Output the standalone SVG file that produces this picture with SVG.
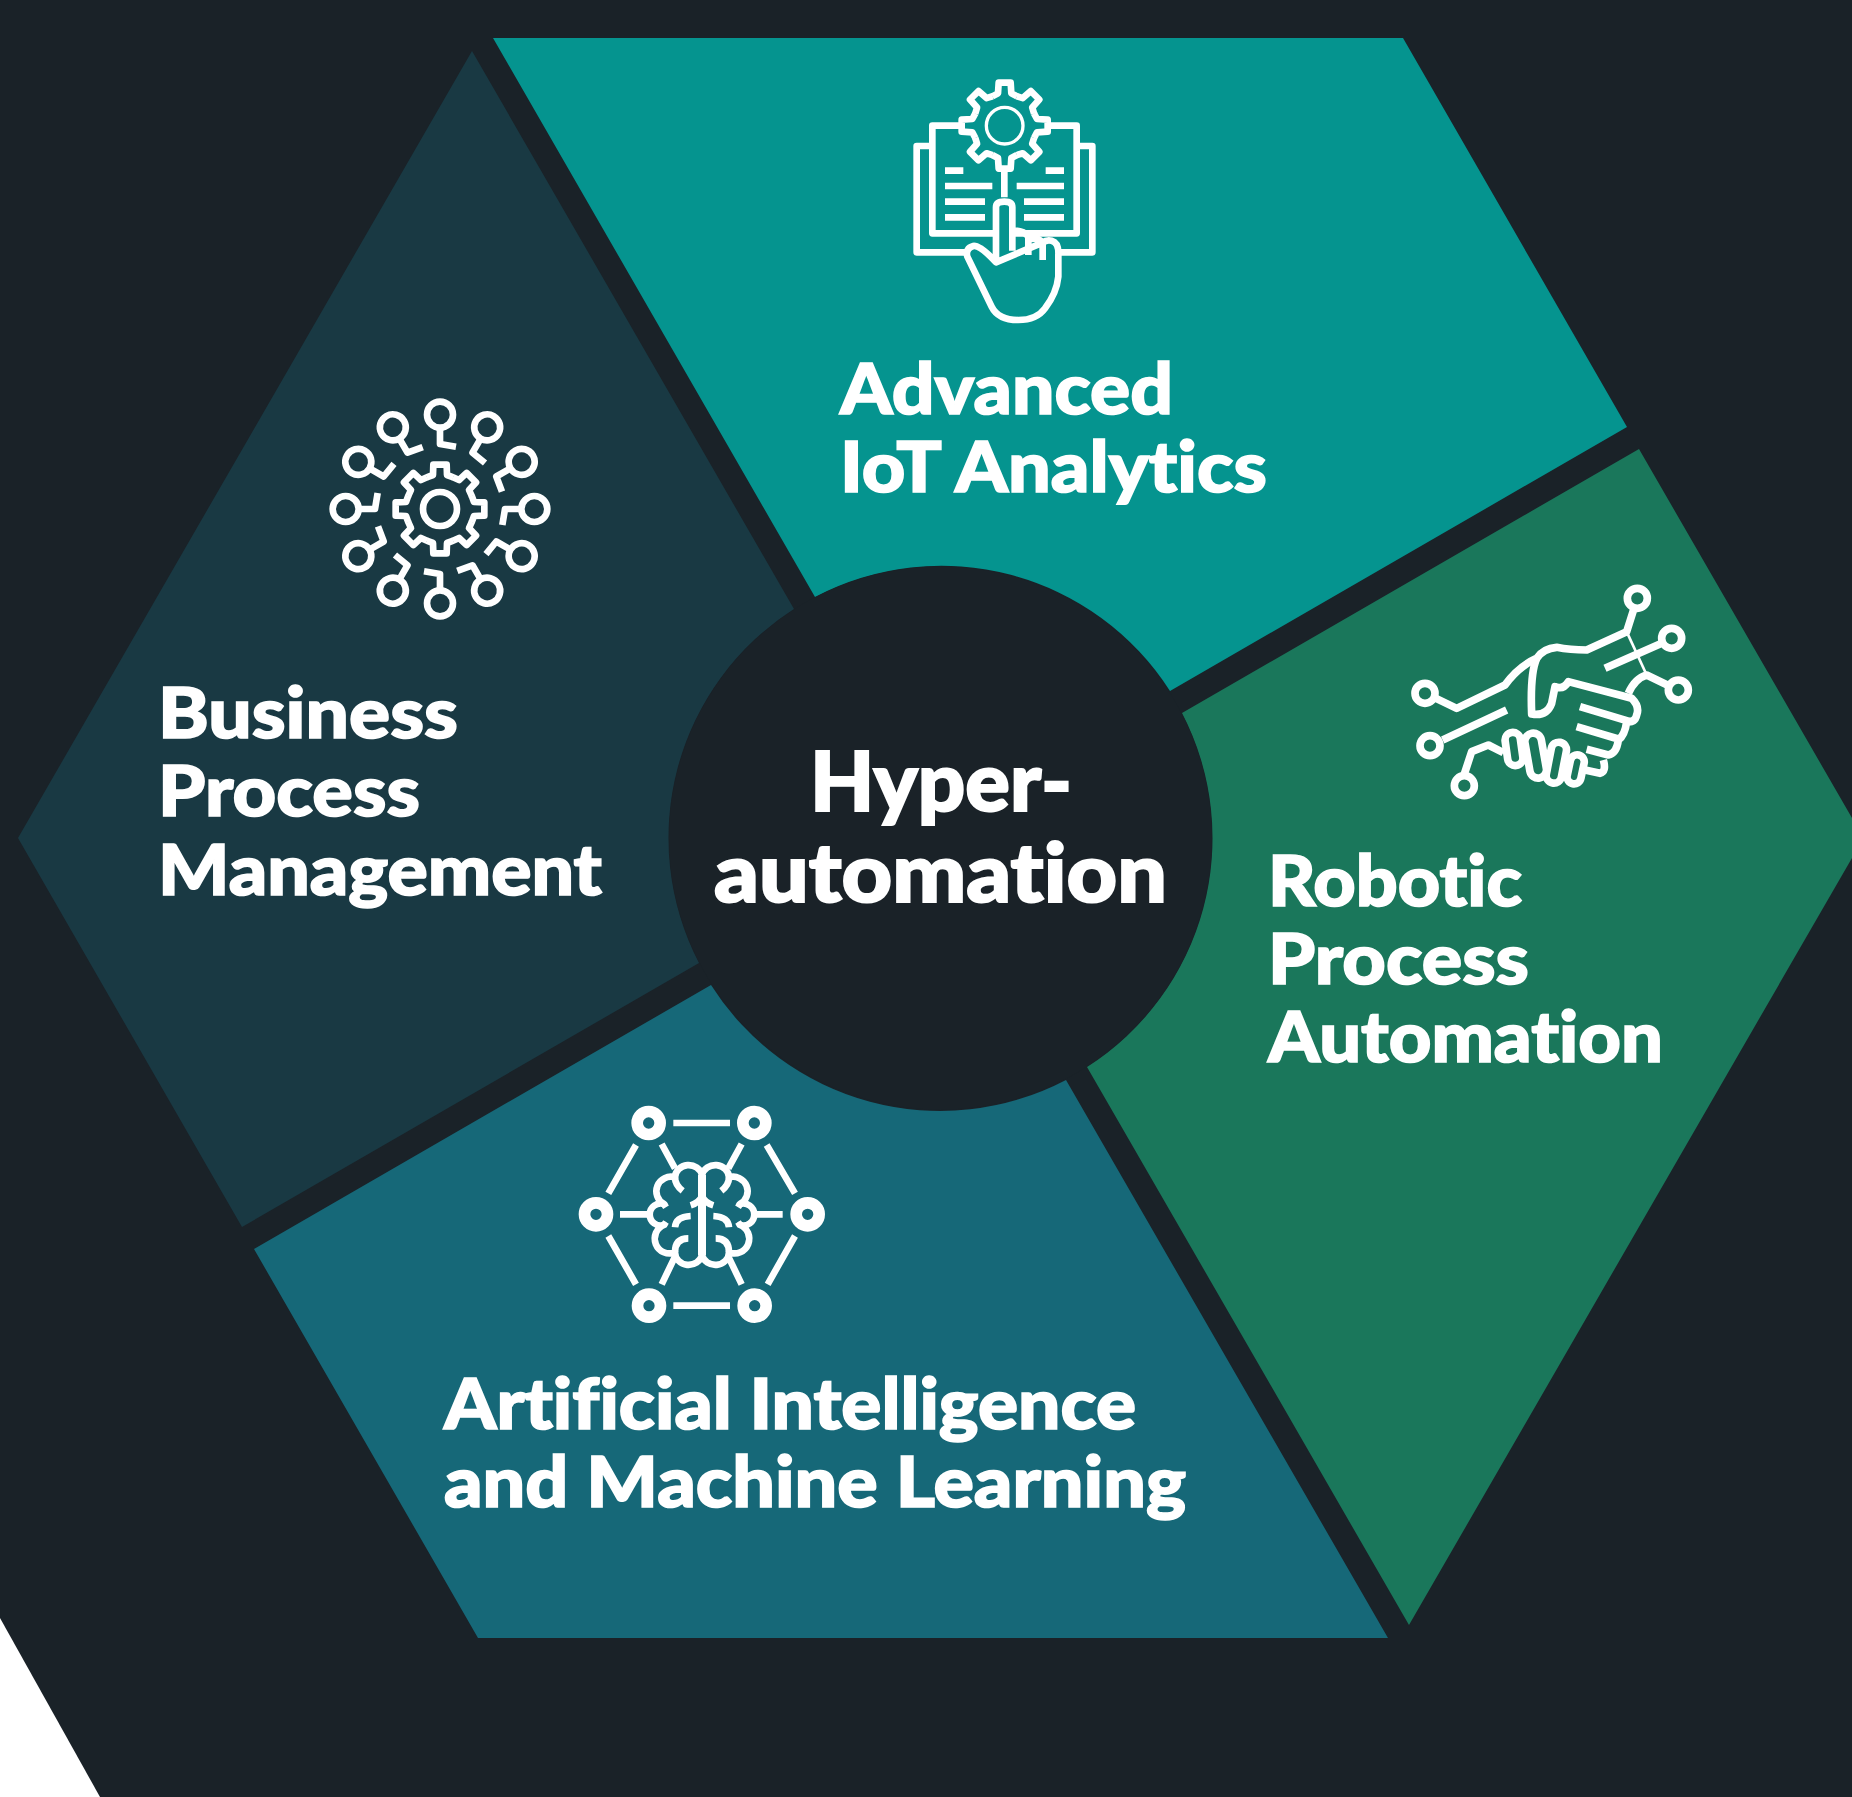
<svg xmlns="http://www.w3.org/2000/svg" xmlns:xlink="http://www.w3.org/1999/xlink" width="1852" height="1797" viewBox="0 0 1852 1797">
<style>
.ic{fill:none;stroke:#fff;stroke-width:20;stroke-linecap:butt;stroke-linejoin:round}
.ic2{stroke-width:23}
.t{font-family:"Lato","Liberation Sans",sans-serif;font-weight:900;fill:#fff;font-size:70px;stroke:#fff;stroke-width:1.6px;font-variant-ligatures:none}
.c{font-size:81px;stroke-width:2px}
</style>
<defs>
<path id="tooth1" d="M-37,-88L-20,-97L-18,-129H18L20,-97L37,-88"/>
<path id="tooth2" d="M-40,-95L-21,-102L-20,-133H20L21,-102L40,-95"/>
<g id="sat"><circle cx="0" cy="-283" r="39"/><path d="M0,-244V-195L48,-187"/></g>
<g id="brainHalf">
<path d="M426,255A41,38 0 0 0 345,262A43.500,43.500 0 0 0 312,342A33,33 0 1 0 312,405A43.500,43.500 0 0 0 345,487A41,38 0 0 0 426,495"/>
<path d="M345,262Q345,285 368,303M312,342L318,352M312,405L318,396M345,412Q347,380 392,378M345,487Q345,445 385,445M392,346Q418,338 426,318"/>
</g>
</defs>
<rect id="background" width="1852" height="1797" fill="#1a2228"/>
<polygon id="corner" points="0,1618 100,1797 0,1797" fill="#fff"/>
<g id="segment-iot">
<path d="M493,38H1403L1627,427L1170,691A271.5,271.5 0 0 0 815,597Z" fill="#05948f"/>
<g class="ic" transform="translate(880,60) scale(.33333)">
<g transform="translate(374,197)">
<use xlink:href="#tooth1"/><use xlink:href="#tooth1" transform="rotate(45)"/><use xlink:href="#tooth1" transform="rotate(90)"/><use xlink:href="#tooth1" transform="rotate(135)"/><use xlink:href="#tooth1" transform="rotate(180)"/><use xlink:href="#tooth1" transform="rotate(225)"/><use xlink:href="#tooth1" transform="rotate(270)"/><use xlink:href="#tooth1" transform="rotate(315)"/>
<circle r="55" stroke-width="10"/>
</g>
<path d="M237,197H157V520H345M510,197H590V520H405M150,258H110V577H255M597,258H637V577H535M373,335V412"/>
<path d="M195,332H250M195,378H337M195,425H315M195,472H315M497,332H552M410,378H552M432,425H552M432,472H552"/>
<path d="M348,607V442Q348,425 373,425Q397,425 397,442V572M397,512Q430,510 445,530V585M445,540Q470,528 488,548V600M488,548Q500,538 515,542Q537,548 535,585V650Q530,700 495,745Q470,780 415,780Q355,780 335,740L262,590Q255,565 280,558Q300,555 348,607Z"/>
</g>
<text class="t" x="840" y="414" textLength="333" lengthAdjust="spacingAndGlyphs">Advanced</text>
<text class="t" x="840" y="492" textLength="427" lengthAdjust="spacingAndGlyphs">IoT Analytics</text>
</g>
<g id="segment-rpa">
<path d="M1639,449L1852,818V858L1409,1625L1087,1067A271.5,271.5 0 0 0 1182,713Z" fill="#1a775b"/>
<g class="ic ic2" transform="translate(1390,570) scale(.33333)">
<circle cx="742" cy="85" r="30"/><circle cx="845" cy="205" r="30"/><circle cx="865" cy="360" r="30"/><circle cx="105" cy="370" r="30"/><circle cx="120" cy="527" r="30"/><circle cx="223" cy="647" r="30"/>
<path d="M730,122L710,185L590,240Q540,240 500,232Q460,235 440,265Q385,290 345,345L200,415L138,385"/>
<path d="M440,265Q420,310 425,432Q470,440 485,400L495,350Q520,360 535,335L725,385Q750,410 740,435Q735,460 710,455M570,410L720,455M560,470L695,510M710,455Q705,495 685,510Q680,550 655,555L590,538M640,570Q650,605 630,610L585,600"/>
<path d="M810,222L645,295M158,510L350,420M223,612L245,545L295,525L340,548M832,345L770,315Q735,325 715,370"/>
<path d="M710,185L770,315" stroke-width="8"/>
<rect x="-23" y="-50" width="46" height="100" rx="23" transform="translate(372,537) rotate(-8)"/>
<rect x="-25" y="-68" width="50" height="136" rx="25" transform="translate(437,557) rotate(-10)"/>
<rect x="-23" y="-62" width="46" height="124" rx="23" transform="translate(499,578) rotate(11)"/>
<rect x="-21" y="-44" width="42" height="88" rx="21" transform="translate(557,598) rotate(12)"/>
</g>
<text class="t" x="1268" y="906" textLength="254" lengthAdjust="spacingAndGlyphs">Robotic</text>
<text class="t" x="1268" y="984" textLength="261" lengthAdjust="spacingAndGlyphs">Process</text>
<text class="t" x="1268" y="1062" textLength="395" lengthAdjust="spacingAndGlyphs">Automation</text>
</g>
<g id="segment-aiml">
<path d="M711,985A271.5,271.5 0 0 0 1066,1080L1388,1638H478L254,1249Z" fill="#166878"/>
<g class="ic" transform="translate(560,1090) scale(.33333)">
<g stroke-width="35"><circle cx="266" cy="99" r="34.5"/><circle cx="583" cy="99" r="34.5"/><circle cx="108" cy="373" r="34.5"/><circle cx="743" cy="373" r="34.5"/><circle cx="267" cy="647" r="34.5"/><circle cx="584" cy="647" r="34.5"/></g>
<path d="M340,99H510M340,647H510M228,165L145,310M620,165L705,310M145,438L228,583M705,438L623,583M305,162L345,235M545,162L505,235M180,373H265M590,373H668M345,500L305,583M505,500L545,583"/>
<use xlink:href="#brainHalf"/>
<use xlink:href="#brainHalf" transform="translate(852,0) scale(-1,1)"/>
<path d="M426,255V495" stroke-width="24"/>
</g>
<text class="t" x="444" y="1428.500" textLength="692" lengthAdjust="spacingAndGlyphs">Artificial Intelligence</text>
<text class="t" x="444" y="1506.500" textLength="742" lengthAdjust="spacingAndGlyphs">and Machine Learning</text>
</g>
<g id="segment-bpm">
<path d="M472,51L794,609A271.5,271.5 0 0 0 699,963L242,1227L18,838Z" fill="#193943"/>
<g class="ic" transform="translate(310,380) scale(.33333)">
<g transform="translate(390,387)">
<use xlink:href="#tooth2"/><use xlink:href="#tooth2" transform="rotate(45)"/><use xlink:href="#tooth2" transform="rotate(90)"/><use xlink:href="#tooth2" transform="rotate(135)"/><use xlink:href="#tooth2" transform="rotate(180)"/><use xlink:href="#tooth2" transform="rotate(225)"/><use xlink:href="#tooth2" transform="rotate(270)"/><use xlink:href="#tooth2" transform="rotate(315)"/>
<circle r="51"/>
<use xlink:href="#sat"/><use xlink:href="#sat" transform="rotate(30)"/><use xlink:href="#sat" transform="rotate(60)"/><use xlink:href="#sat" transform="rotate(90)"/><use xlink:href="#sat" transform="rotate(120)"/><use xlink:href="#sat" transform="rotate(150)"/><use xlink:href="#sat" transform="rotate(180)"/><use xlink:href="#sat" transform="rotate(210)"/><use xlink:href="#sat" transform="rotate(240)"/><use xlink:href="#sat" transform="rotate(270)"/><use xlink:href="#sat" transform="rotate(300)"/><use xlink:href="#sat" transform="rotate(330)"/>
</g>
</g>
<text class="t" x="158" y="738" textLength="300" lengthAdjust="spacingAndGlyphs">Business</text>
<text class="t" x="158" y="816" textLength="262" lengthAdjust="spacingAndGlyphs">Process</text>
<text class="t" x="158" y="894.500" textLength="444" lengthAdjust="spacingAndGlyphs">Management</text>
</g>
<g id="hub">
<circle cx="940.500" cy="838" r="271.500" fill="#1a2228"/>
<text class="t c" x="810" y="811" textLength="262" lengthAdjust="spacingAndGlyphs">Hyper-</text>
<text class="t c" x="714" y="902" textLength="453" lengthAdjust="spacingAndGlyphs">automation</text>
</g>
</svg>
